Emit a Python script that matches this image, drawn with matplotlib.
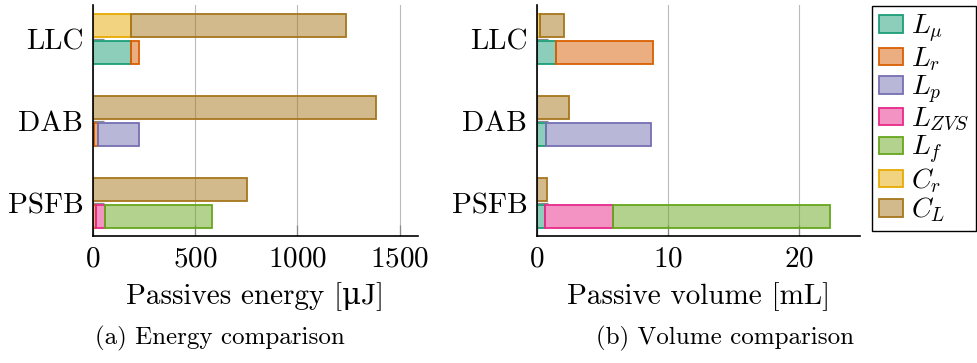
import numpy as np
import matplotlib.pyplot as plt
from matplotlib.colors import to_rgba
from matplotlib.patches import Patch

plt.rcParams['font.family'] = ['cmr10', 'DejaVu Serif']
plt.rcParams['mathtext.fontset'] = 'cm'
plt.rcParams['axes.formatter.use_mathtext'] = True
plt.rcParams['font.size'] = 21

categories = ['LLC', 'DAB', 'PSFB']

# passives energy [uJ]
energy_Lmu = [188, 3, 2]
energy_Lr = [37, 22, 15]
energy_Lp = [0, 200, 0]
energy_Lzvs = [0, 0, 40]
energy_Lf = [0, 0, 525]
energy_Cr = [186, 1, 1]
energy_CL = [1051, 1383, 751]

# passive volume [mL]
vol_Lmu = [1.48, 0.69, 0.61]
vol_Lr = [7.40, 0, 0]
vol_Lp = [0, 8.03, 0]
vol_Lzvs = [0, 0, 5.21]
vol_Lf = [0, 0, 16.6]
vol_Cr = [0.2, 0, 0]
vol_CL = [1.89, 2.45, 0.74]

labels = [r'$L_\mu$', r'$L_r$', r'$L_p$', r'$L_{ZVS}$', r'$L_f$', r'$C_r$', r'$C_L$']
colors = ['#1b9e77', '#d95f02', '#7570b3', '#e7298a', '#66a61e', '#e6ab02', '#a6761d']

bar_h = 0.28
offset = 0.165
edge_w = 1.3


def stacked(ax, series, ypos):
    left = np.zeros(len(ypos))
    for vals, color in series:
        vals = np.array(vals, dtype=float)
        m = vals > 0
        ax.barh(ypos[m], vals[m], left=left[m], height=bar_h,
                color=to_rgba(color, 0.5), edgecolor=color, linewidth=edge_w)
        left += vals


def draw(ax, ind, cap, xmax, xticks, xlabel):
    y = np.arange(len(categories))[::-1].astype(float)
    stacked(ax, zip(ind, colors[:5]), y - offset)
    stacked(ax, zip(cap, colors[5:]), y + offset)
    ax.set_yticks(y)
    ax.set_yticklabels(categories)
    ax.set_ylim(-0.40, 2.415)
    ax.set_xlim(0, xmax)
    ax.set_xticks(xticks)
    ax.grid(axis='x', color='#bbbbbb', linewidth=0.8)
    ax.set_axisbelow(True)
    for s in ['top', 'right']:
        ax.spines[s].set_visible(False)
    for s in ['left', 'bottom']:
        ax.spines[s].set_linewidth(1.2)
    ax.tick_params(axis='both', direction='in', color='#888888', length=8,
                   width=0.9, pad=7, labelsize=21)
    ax.set_xlabel(xlabel, labelpad=7)


fig = plt.figure(figsize=(9.78, 3.63), dpi=100)
ax1 = fig.add_axes([93 / 978, 1 - 236 / 363, 325 / 978, 231 / 363])
ax2 = fig.add_axes([537 / 978, 1 - 236 / 363, 323 / 978, 231 / 363])

draw(ax1, [energy_Lmu, energy_Lr, energy_Lp, energy_Lzvs, energy_Lf],
     [energy_Cr, energy_CL], 1590, [0, 500, 1000, 1500], 'Passives energy [\u03bcJ]')
draw(ax2, [vol_Lmu, vol_Lr, vol_Lp, vol_Lzvs, vol_Lf],
     [vol_Cr, vol_CL], 24.7, [0, 10, 20], 'Passive volume [mL]')

fig.text(220 / 978, 1 - 344 / 363, '(a) Energy comparison', ha='center', va='baseline', fontsize=18)
fig.text(725 / 978, 1 - 344 / 363, '(b) Volume comparison', ha='center', va='baseline', fontsize=18)

handles = [Patch(facecolor=to_rgba(c, 0.5), edgecolor=c, linewidth=edge_w) for c in colors]
leg = fig.legend(handles, labels, loc='upper right', bbox_to_anchor=(976 / 978, 1 - 6 / 363),
                 fancybox=False, edgecolor='black', framealpha=1, fontsize=20,
                 handlelength=0.85, handleheight=0.58, labelspacing=0.02,
                 borderpad=0.25, handletextpad=0.3, borderaxespad=0)
leg.get_frame().set_linewidth(1.0)

fig.savefig('out.png', dpi=100)
